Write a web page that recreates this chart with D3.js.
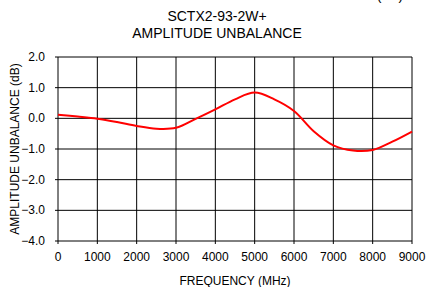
<!DOCTYPE html>
<html>
<head>
<meta charset="utf-8">
<script src="https://cdn.jsdelivr.net/npm/d3@7"></script>
<style>
  body { margin: 0; background: #fff; }
  text { font-family: "Liberation Sans", Arial, sans-serif; fill: #000; }
</style>
</head>
<body>
<svg width="427" height="287"></svg>
<script>
// frequency (MHz) and amplitude unbalance (dB)
const freq = [0, 500, 1000, 1500, 2000, 2500, 3000, 3500, 4000, 4500,
              5000, 5500, 6000, 6500, 7000, 7500, 8000, 8500, 9000];
const unbalance = [0.12, 0.06, -0.01, -0.12, -0.25, -0.34, -0.31, -0.02, 0.29, 0.62,
                   0.84, 0.62, 0.24, -0.42, -0.88, -1.05, -1.03, -0.76, -0.43];
const xTicks = [0, 1000, 2000, 3000, 4000, 5000, 6000, 7000, 8000, 9000];
const yTicks = [2, 1, 0, -1, -2, -3, -4];

const margin = {left: 58, right: 15, top: 57, bottom: 46};
const width = 427, height = 287;

const svg = d3.select('svg');

const x = d3.scaleLinear().domain([0, 9000]).range([margin.left, width - margin.right]);
const y = d3.scaleLinear().domain([-4, 2]).range([height - margin.bottom, margin.top]);

// grid
svg.append('g')
    .selectAll('line')
    .data(xTicks)
    .enter()
    .append('line')
    .attr('x1', d => x(d)).attr('x2', d => x(d))
    .attr('y1', y(2)).attr('y2', y(-4) + 3)
    .attr('stroke', '#000').attr('stroke-width', 1);

svg.append('g')
    .selectAll('line')
    .data(yTicks)
    .enter()
    .append('line')
    .attr('x1', x(0) - 3).attr('x2', x(9000))
    .attr('y1', d => y(d)).attr('y2', d => y(d))
    .attr('stroke', '#000').attr('stroke-width', 1);

// tick labels
svg.append('g')
    .selectAll('text')
    .data(yTicks)
    .enter()
    .append('text')
    .attr('x', x(0) - 13)
    .attr('y', d => y(d) + 4)
    .attr('text-anchor', 'end')
    .style('font-size', '12px')
    .text(d => d3.format('.1f')(d));

svg.append('g')
    .selectAll('text')
    .data(xTicks)
    .enter()
    .append('text')
    .attr('x', d => x(d))
    .attr('y', y(-4) + 20)
    .attr('text-anchor', 'middle')
    .style('font-size', '12px')
    .text(d => d);

// curve
const line = d3.line()
    .x((d, i) => x(freq[i]))
    .y(d => y(d))
    .curve(d3.curveCatmullRom.alpha(0.5));

svg.append('path')
    .datum(unbalance)
    .attr('d', line)
    .attr('fill', 'none')
    .attr('stroke', '#ff0000')
    .attr('stroke-width', 2);

// titles (top line is the clipped tail of the chart above)
svg.append('text')
    .attr('x', 390).attr('y', 0)
    .attr('text-anchor', 'middle')
    .style('font-size', '14px')
    .text('(dB)');

svg.append('text')
    .attr('x', 217).attr('y', 21)
    .attr('text-anchor', 'middle')
    .style('font-size', '14px')
    .text('SCTX2-93-2W+');

svg.append('text')
    .attr('x', 217).attr('y', 38)
    .attr('text-anchor', 'middle')
    .style('font-size', '14px')
    .text('AMPLITUDE UNBALANCE');

svg.append('text')
    .attr('x', (x(0) + x(9000)) / 2)
    .attr('y', 285)
    .attr('text-anchor', 'middle')
    .style('font-size', '12px')
    .text('FREQUENCY (MHz)');

svg.append('text')
    .attr('transform', `translate(19, ${(y(2) + y(-4)) / 2}) rotate(-90)`)
    .attr('text-anchor', 'middle')
    .style('font-size', '12px')
    .text('AMPLITUDE UNBALANCE (dB)');
</script>
</body>
</html>
